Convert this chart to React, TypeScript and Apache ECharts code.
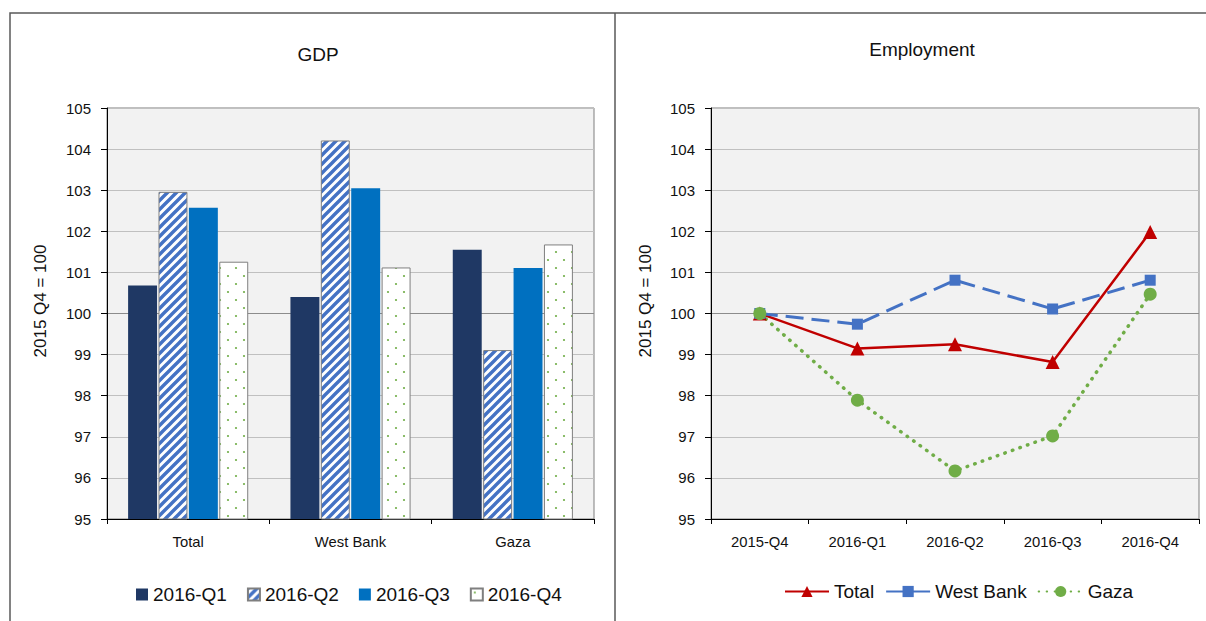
import React, { useEffect, useRef } from "react";
import * as echarts from "echarts";

const gdpCategories = ["Total", "West Bank", "Gaza"];
const gdpSeriesNames = ["2016-Q1", "2016-Q2", "2016-Q3", "2016-Q4"];
const gdpQ1 = [100.68, 100.4, 101.55];
const gdpQ2 = [102.96, 104.21, 99.11];
const gdpQ3 = [102.57, 103.05, 101.11];
const gdpQ4 = [101.26, 101.12, 101.68];

const empQuarters = ["2015-Q4", "2016-Q1", "2016-Q2", "2016-Q3", "2016-Q4"];
const empSeriesNames = ["Total", "West Bank", "Gaza"];
const empTotal = [100, 99.15, 99.25, 98.82, 101.98];
const empWestBank = [100, 99.74, 100.81, 100.11, 100.81];
const empGaza = [100, 97.89, 96.17, 97.02, 100.47];

const yMin = 95;
const yMax = 105;
const yAxisTitle = "2015 Q4 = 100";

const FONT = "'Liberation Sans', Arial, sans-serif";

function makeStripeCanvas(): HTMLCanvasElement {
  const s = 9;
  const c = document.createElement("canvas");
  c.width = s;
  c.height = s;
  const ctx = c.getContext("2d")!;
  ctx.fillStyle = "#FFFFFF";
  ctx.fillRect(0, 0, s, s);
  ctx.strokeStyle = "#4472C4";
  ctx.lineWidth = 3.4;
  ctx.beginPath();
  ctx.moveTo(-s, 2 * s);
  ctx.lineTo(2 * s, -s);
  ctx.moveTo(-s, s);
  ctx.lineTo(s, -s);
  ctx.moveTo(0, 2 * s);
  ctx.lineTo(2 * s, 0);
  ctx.stroke();
  return c;
}

function makeDotCanvas(): HTMLCanvasElement {
  const s = 16;
  const c = document.createElement("canvas");
  c.width = s;
  c.height = s;
  const ctx = c.getContext("2d")!;
  ctx.fillStyle = "#FFFFFF";
  ctx.fillRect(0, 0, s, s);
  ctx.fillStyle = "#70AD47";
  [[4, 4], [12, 12]].forEach(([x, y]) => {
    ctx.beginPath();
    ctx.arc(x, y, 1.1, 0, Math.PI * 2);
    ctx.fill();
  });
  return c;
}

export default function App() {
  const ref = useRef<HTMLDivElement>(null);

  useEffect(() => {
    if (!ref.current) return;
    const chart = echarts.init(ref.current, undefined, { renderer: "svg" });

    const gridColors = [
      "#C0C0C0", "#C0C0C0", "#C0C0C0", "#C0C0C0", "#C0C0C0",
      "#8C8C8C",
      "#C0C0C0", "#C0C0C0", "#C0C0C0", "#C0C0C0", "#C0C0C0",
    ];

    const yAxisBase = (gridIndex: number) => ({
      type: "value",
      gridIndex,
      min: yMin,
      max: yMax,
      interval: 1,
      axisLine: { show: true, lineStyle: { color: "#000", width: 1 } },
      axisTick: { show: true, length: 6, lineStyle: { color: "#000" } },
      axisLabel: { fontFamily: FONT, fontSize: 15, color: "#111", margin: 16 },
      splitLine: { show: true, lineStyle: { color: gridColors, width: 1.2 } },
    });

    const xAxisBase = (data: string[], gridIndex: number) => ({
      type: "category",
      gridIndex,
      data,
      boundaryGap: true,
      axisLine: { show: true, lineStyle: { color: "#000", width: 1 } },
      axisTick: { show: true, length: 5, alignWithLabel: false, lineStyle: { color: "#000" } },
      axisLabel: { fontFamily: FONT, fontSize: 14.8, color: "#111", margin: 15 },
      splitLine: { show: false },
    });

    const stripeFill = { image: makeStripeCanvas(), repeat: "repeat" };
    const dotFill = { image: makeDotCanvas(), repeat: "repeat" };

    const barBase = {
      type: "bar",
      xAxisIndex: 0,
      yAxisIndex: 0,
      barGap: "5%",
      barCategoryGap: "26%",
    };

    const titleStyle = { fontFamily: FONT, fontSize: 19, fontWeight: "normal", color: "#111" };

    const option: any = {
      animation: false,
      backgroundColor: "#FFFFFF",
      title: [
        { text: "GDP", left: 313, top: 39.5, textAlign: "center", textStyle: titleStyle },
        { text: "Employment", left: 917, top: 34.5, textAlign: "center", textStyle: titleStyle },
      ],
      legend: [
        {
          data: gdpSeriesNames,
          left: 131,
          top: 580,
          orient: "horizontal",
          icon: "rect",
          itemWidth: 12,
          itemHeight: 12,
          itemGap: 20,
          textStyle: { fontFamily: FONT, fontSize: 19, color: "#111" },
        },
        {
          data: empSeriesNames,
          left: 779,
          top: 577,
          orient: "horizontal",
          itemWidth: 44,
          itemHeight: 14,
          itemGap: 11,
          textStyle: { fontFamily: FONT, fontSize: 19, color: "#111" },
        },
      ],
      grid: [
        {
          left: 107,
          top: 108,
          width: 487,
          height: 411,
          show: true,
          backgroundColor: "#F2F2F2",
          borderColor: "#7F7F7F",
          borderWidth: 1,
        },
        {
          left: 711,
          top: 108,
          width: 488,
          height: 411,
          show: true,
          backgroundColor: "#F2F2F2",
          borderColor: "#7F7F7F",
          borderWidth: 1,
        },
      ],
      xAxis: [xAxisBase(gdpCategories, 0), xAxisBase(empQuarters, 1)],
      yAxis: [yAxisBase(0), yAxisBase(1)],
      series: [
        {
          ...barBase,
          name: gdpSeriesNames[0],
          data: gdpQ1,
          itemStyle: { color: "#1F3864" },
        },
        {
          ...barBase,
          name: gdpSeriesNames[1],
          data: gdpQ2,
          itemStyle: { color: stripeFill, borderColor: "#7F7F7F", borderWidth: 1 },
        },
        {
          ...barBase,
          name: gdpSeriesNames[2],
          data: gdpQ3,
          itemStyle: { color: "#0070C0" },
        },
        {
          ...barBase,
          name: gdpSeriesNames[3],
          data: gdpQ4,
          itemStyle: { color: dotFill, borderColor: "#7F7F7F", borderWidth: 1 },
        },
        {
          type: "line",
          name: empSeriesNames[0],
          xAxisIndex: 1,
          yAxisIndex: 1,
          data: empTotal,
          symbol: "triangle",
          symbolSize: 14,
          itemStyle: { color: "#C00000" },
          lineStyle: { color: "#C00000", width: 2.5 },
        },
        {
          type: "line",
          name: empSeriesNames[1],
          xAxisIndex: 1,
          yAxisIndex: 1,
          data: empWestBank,
          symbol: "rect",
          symbolSize: 11,
          itemStyle: { color: "#4472C4" },
          lineStyle: { color: "#4472C4", width: 3, type: [18, 8] },
        },
        {
          type: "line",
          name: empSeriesNames[2],
          xAxisIndex: 1,
          yAxisIndex: 1,
          data: empGaza,
          symbol: "circle",
          symbolSize: 13,
          itemStyle: { color: "#70AD47" },
          lineStyle: { color: "#70AD47", width: 3.5, type: [0.5, 7.5], cap: "round" },
        },
      ],
      graphic: [
        {
          type: "polyline",
          shape: { points: [[10, 621], [10, 13], [1206, 13]] },
          style: { stroke: "#595959", lineWidth: 1.5, fill: "none" },
          silent: true,
        },
        {
          type: "line",
          shape: { x1: 615, y1: 13, x2: 615, y2: 621 },
          style: { stroke: "#595959", lineWidth: 1.5 },
          silent: true,
        },
        {
          type: "text",
          x: 40,
          y: 301,
          rotation: Math.PI / 2,
          style: {
            text: yAxisTitle,
            fontFamily: FONT,
            fontSize: 17,
            fill: "#111",
            align: "center",
            verticalAlign: "middle",
          },
          silent: true,
        },
        {
          type: "text",
          x: 645,
          y: 301,
          rotation: Math.PI / 2,
          style: {
            text: yAxisTitle,
            fontFamily: FONT,
            fontSize: 17,
            fill: "#111",
            align: "center",
            verticalAlign: "middle",
          },
          silent: true,
        },
      ],
    };

    chart.setOption(option);
    return () => chart.dispose();
  }, []);

  return (
    <div
      ref={ref}
      style={{ position: "absolute", left: 0, top: 0, width: 1206, height: 621 }}
    />
  );
}
